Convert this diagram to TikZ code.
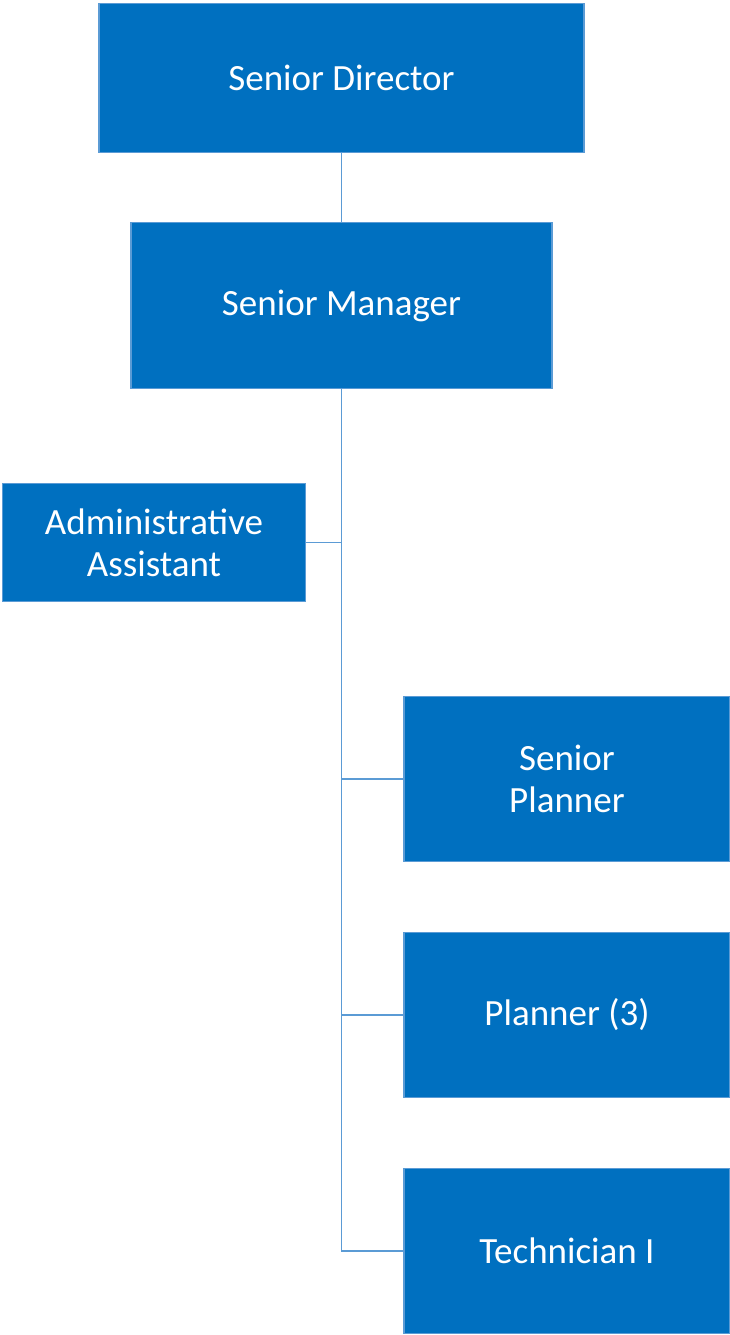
\documentclass[tikz,border=0pt]{standalone}
\usepackage{fontspec}
\setmainfont{Carlito}
\usetikzlibrary{positioning}
\definecolor{orgfill}{HTML}{0070C0}
\definecolor{orgedge}{HTML}{5B9BD5}
\begin{document}
\begin{tikzpicture}[
    x=1pt, y=-1pt,
    orgbox/.style={rectangle, draw=orgedge, line width=1.5pt, fill=orgfill, text=white,
        minimum width=#1, font=\fontsize{37}{42}\selectfont, align=center, inner sep=0pt},
    link/.style={draw=orgedge, line width=1.2pt}
]
\useasboundingbox (0,0) rectangle (730,1335);

% top of the chart
\node[orgbox=485pt, minimum height=149pt] (dir) at (341.5,78) {Senior Director};
\node[orgbox=421pt, minimum height=166pt] (mgr) at (341.5,305.5) {Senior Manager};

% staff
\node[orgbox=303pt, minimum height=118pt] (admin) at (154,542.5) {Administrative\\Assistant};

% reports
\node[orgbox=326pt, minimum height=165pt] (splan) at (567,779) {Senior\\Planner};
\node[orgbox=326pt, minimum height=165pt] (plan) at (567,1015) {Planner (3)};
\node[orgbox=326pt, minimum height=165pt] (tech) at (567,1251) {Technician I};

% connectors
\draw[link] (dir.south) -- (mgr.north);
\draw[link] (admin.east) -| (mgr.south);
\draw[link] (mgr.south) |- (splan.west);
\draw[link] (mgr.south) |- (plan.west);
\draw[link] (mgr.south) |- (tech.west);

\end{tikzpicture}
\end{document}
